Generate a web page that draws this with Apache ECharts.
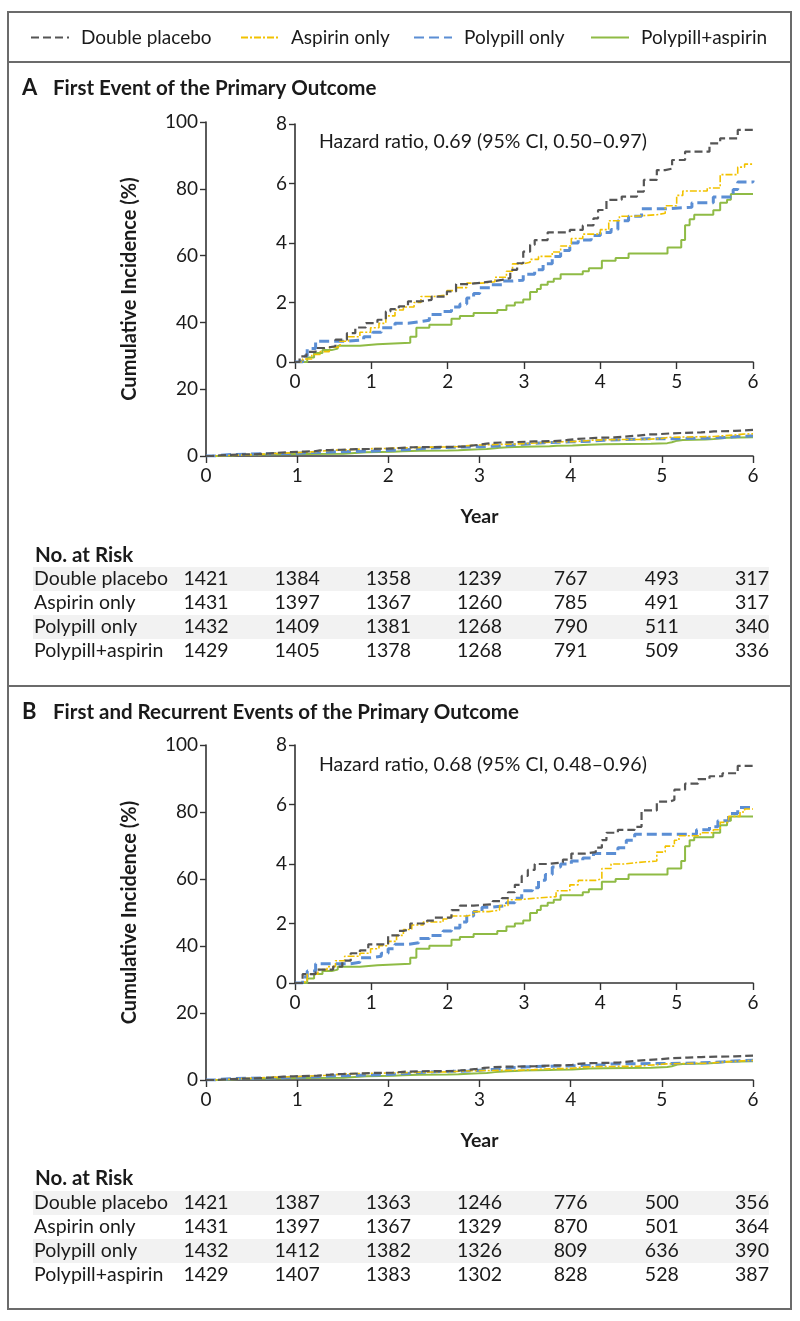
<!DOCTYPE html>
<html><head><meta charset="utf-8">
<script src="https://cdn.jsdelivr.net/npm/echarts@6/dist/echarts.min.js"></script>
<style>html,body{margin:0;padding:0;background:#fff}#c{width:800px;height:1321px}</style>
</head><body><div id="c"></div>
<script>
// ---------- DATA ----------
const groups = ['Double placebo', 'Aspirin only', 'Polypill only', 'Polypill+aspirin'];
const yearTicks = [0, 1, 2, 3, 4, 5, 6];
const panelATitle = 'First Event of the Primary Outcome';
const panelBTitle = 'First and Recurrent Events of the Primary Outcome';
const hazardA = 'Hazard ratio, 0.69 (95% CI, 0.50–0.97)';
const hazardB = 'Hazard ratio, 0.68 (95% CI, 0.48–0.96)';

// Panel A cumulative incidence (%) [year, value]
const placeboA = [[0,0],[0.06,0.19],[0.15,0.34],[0.27,0.47],[0.39,0.53],[0.53,0.75],[0.68,0.97],[0.79,1.16],[0.93,1.31],[1.08,1.42],[1.19,1.70],[1.25,1.78],[1.36,1.87],[1.48,2.04],[1.65,2.09],[1.79,2.2],[1.99,2.37],[2.11,2.62],[2.28,2.67],[2.45,2.71],[2.59,2.76],[2.71,2.82],[2.82,3.1],[2.91,3.32],[2.99,3.71],[3.08,3.94],[3.14,4.1],[3.31,4.36],[3.6,4.44],[3.77,4.59],[3.91,4.83],[3.97,5.11],[4.08,5.45],[4.28,5.56],[4.48,5.73],[4.57,6.12],[4.74,6.45],[4.85,6.5],[4.94,6.79],[5.11,7.07],[5.43,7.35],[5.57,7.52],[5.8,7.8],[6.0,7.8]];
const aspirinA = [[0,0],[0.1,0.1],[0.22,0.25],[0.33,0.35],[0.45,0.5],[0.59,0.7],[0.7,0.85],[0.85,1.0],[0.99,1.15],[1.1,1.3],[1.19,1.55],[1.31,1.75],[1.42,1.85],[1.56,2.0],[1.65,2.2],[1.82,2.25],[1.99,2.4],[2.11,2.5],[2.25,2.65],[2.45,2.7],[2.62,2.85],[2.77,3.05],[2.85,3.3],[2.99,3.35],[3.08,3.45],[3.19,3.55],[3.37,3.7],[3.48,3.9],[3.62,4.15],[3.77,4.3],[4.0,4.45],[4.11,4.75],[4.25,4.9],[4.45,4.95],[4.74,5.0],[4.85,5.25],[5.0,5.6],[5.08,5.75],[5.4,5.85],[5.57,6.3],[5.8,6.55],[5.89,6.65],[6.0,6.65]];
const polypillA = [[0,0],[0.1,0.2],[0.16,0.45],[0.27,0.7],[0.7,0.75],[0.9,0.85],[1.02,1.0],[1.13,1.15],[1.31,1.3],[1.48,1.35],[1.62,1.4],[1.76,1.6],[1.94,1.7],[2.05,1.85],[2.16,1.95],[2.25,2.15],[2.34,2.3],[2.42,2.5],[2.56,2.6],[2.71,2.72],[2.85,2.75],[2.99,2.95],[3.14,3.1],[3.25,3.3],[3.37,3.55],[3.48,3.75],[3.6,4.0],[3.71,4.1],[3.88,4.25],[4.0,4.35],[4.14,4.45],[4.23,4.75],[4.37,4.9],[4.54,5.15],[4.85,5.2],[5.2,5.35],[5.48,5.55],[5.74,5.8],[5.8,6.05],[6.0,6.1]];
const bothA = [[0,0],[0.1,0],[0.16,0.15],[0.25,0.3],[0.36,0.4],[0.48,0.45],[0.56,0.55],[0.85,0.6],[1.08,0.65],[1.51,0.85],[1.59,1.15],[1.76,1.25],[2.05,1.45],[2.16,1.55],[2.34,1.65],[2.65,1.75],[2.77,1.9],[2.88,2.0],[2.99,2.1],[3.08,2.35],[3.17,2.45],[3.22,2.6],[3.31,2.7],[3.39,2.8],[3.48,2.95],[3.77,3.05],[3.85,3.15],[4.02,3.4],[4.2,3.5],[4.37,3.65],[4.88,3.85],[5.06,4.1],[5.11,4.6],[5.17,4.8],[5.23,4.95],[5.48,5.1],[5.57,5.35],[5.66,5.45],[5.71,5.65],[6.0,5.65]];

// Panel B cumulative incidence (%) [year, value]
const placeboB = [[0,0],[0.1,0.3],[0.27,0.45],[0.5,0.55],[0.62,0.75],[0.73,1.0],[0.85,1.1],[0.96,1.3],[1.22,1.6],[1.36,1.75],[1.42,1.8],[1.51,2.0],[1.73,2.1],[1.82,2.2],[2.05,2.45],[2.16,2.6],[2.34,2.65],[2.59,2.75],[2.71,2.85],[2.79,3.05],[2.88,3.3],[2.97,3.6],[3.05,3.8],[3.14,4.0],[3.31,4.05],[3.51,4.15],[3.62,4.35],[3.8,4.4],[3.94,4.55],[4.02,4.8],[4.08,5.05],[4.23,5.15],[4.45,5.25],[4.54,5.8],[4.74,6.1],[4.91,6.15],[4.97,6.5],[5.11,6.7],[5.28,6.85],[5.43,6.95],[5.6,7.05],[5.8,7.3],[6.0,7.3]];
const aspirinB = [[0,0],[0.05,0.05],[0.16,0.3],[0.3,0.45],[0.42,0.55],[0.53,0.75],[0.65,0.9],[0.85,1.0],[0.99,1.15],[1.1,1.25],[1.22,1.4],[1.33,1.6],[1.42,1.8],[1.53,1.95],[1.68,2.05],[1.94,2.15],[2.02,2.25],[2.25,2.3],[2.34,2.4],[2.54,2.45],[2.68,2.6],[2.79,2.8],[2.94,2.85],[3.14,2.9],[3.42,3.1],[3.6,3.3],[3.71,3.45],[3.94,3.5],[4.02,3.85],[4.14,4.0],[4.31,4.05],[4.48,4.1],[4.74,4.4],[4.85,4.6],[4.97,4.8],[5.03,4.95],[5.31,5.05],[5.48,5.15],[5.57,5.4],[5.68,5.6],[5.83,5.75],[5.89,5.85],[6.0,5.85]];
const polypillB = [[0,0],[0.1,0.2],[0.16,0.4],[0.27,0.65],[0.73,0.7],[0.85,0.85],[0.99,0.9],[1.13,1.0],[1.22,1.15],[1.31,1.3],[1.48,1.35],[1.62,1.5],[1.76,1.6],[1.94,1.75],[2.05,1.85],[2.16,2.05],[2.25,2.25],[2.34,2.4],[2.45,2.55],[2.59,2.6],[2.77,2.7],[2.88,2.85],[2.97,3.1],[3.11,3.2],[3.19,3.45],[3.28,3.65],[3.37,3.9],[3.48,4.0],[3.62,4.1],[3.77,4.2],[3.91,4.35],[4.23,4.55],[4.34,4.8],[4.45,5.0],[5.26,5.15],[5.43,5.25],[5.54,5.45],[5.68,5.7],[5.8,5.9],[6.0,5.9]];
const bothB = [[0,0],[0.1,0],[0.16,0.15],[0.25,0.3],[0.36,0.4],[0.48,0.45],[0.56,0.55],[0.85,0.6],[1.08,0.65],[1.51,0.85],[1.59,1.15],[1.76,1.25],[2.05,1.45],[2.16,1.55],[2.34,1.65],[2.65,1.75],[2.77,1.9],[2.88,2.0],[2.99,2.1],[3.08,2.35],[3.17,2.45],[3.22,2.6],[3.31,2.7],[3.39,2.8],[3.48,2.95],[3.77,3.05],[3.85,3.15],[4.02,3.4],[4.2,3.5],[4.37,3.65],[4.88,3.85],[5.06,4.1],[5.11,4.6],[5.17,4.8],[5.23,4.9],[5.48,5.05],[5.57,5.3],[5.66,5.45],[5.71,5.6],[6.0,5.6]];

// Numbers at risk
const riskAPlacebo  = [1421, 1384, 1358, 1239, 767, 493, 317];
const riskAAspirin  = [1431, 1397, 1367, 1260, 785, 491, 317];
const riskAPolypill = [1432, 1409, 1381, 1268, 790, 511, 340];
const riskABoth     = [1429, 1405, 1378, 1268, 791, 509, 336];
const riskBPlacebo  = [1421, 1387, 1363, 1246, 776, 500, 356];
const riskBAspirin  = [1431, 1397, 1367, 1329, 870, 501, 364];
const riskBPolypill = [1432, 1412, 1382, 1326, 809, 636, 390];
const riskBBoth     = [1429, 1407, 1383, 1302, 828, 528, 387];

// ---------- STYLE ----------
const FONT = 'Lato, "Liberation Sans", sans-serif';
const TXT = '#1a1a1a';
const AX = '#333333';
const styles = [
  { color: '#555555', width: 2.2, type: [8, 4] },
  { color: '#f2c200', width: 1.6, type: [7, 2, 2, 2] },
  { color: '#5b8ed4', width: 3, type: [10, 5] },
  { color: '#8fbb45', width: 2, type: 'solid' }
];
const dataA = [placeboA, aspirinA, polypillA, bothA];
const dataB = [placeboB, aspirinB, polypillB, bothB];

const grids = [
  { left: 206, top: 122, width: 547, height: 334 },
  { left: 295, top: 124, width: 458, height: 238 },
  { left: 206, top: 745, width: 547, height: 335 },
  { left: 295, top: 745, width: 458, height: 238 }
];

function xAx(i, main) {
  return {
    type: 'value', gridIndex: i, min: 0, max: 6, interval: 1,
    axisLine: { show: true, lineStyle: { color: AX, width: 1.6 } },
    axisTick: { show: true, length: 7, lineStyle: { color: AX, width: 1.4 } },
    axisLabel: { fontFamily: FONT, fontSize: 19, color: TXT, margin: 10 },
    splitLine: { show: false },
    name: main ? 'Year' : '', nameLocation: 'middle', nameGap: 51,
    nameTextStyle: { fontFamily: FONT, fontSize: 19.5, fontWeight: 'bold', color: TXT }
  };
}
function yAx(i, main) {
  return {
    type: 'value', gridIndex: i, min: 0, max: main ? 100 : 8, interval: main ? 20 : 2,
    axisLine: { show: true, lineStyle: { color: AX, width: 1.6 } },
    axisTick: { show: true, length: 6, lineStyle: { color: AX, width: 1.4 } },
    axisLabel: { fontFamily: FONT, fontSize: 19, color: TXT, margin: 8 },
    splitLine: { show: false },
    name: main ? 'Cumulative Incidence (%)' : '', nameLocation: 'middle', nameGap: 66,
    nameTextStyle: { fontFamily: FONT, fontSize: 20, fontWeight: 'bold', color: TXT }
  };
}

const series = [];
[[0, dataA], [1, dataA], [2, dataB], [3, dataB]].forEach(([gi, ds]) => {
  ds.forEach((d, k) => {
    series.push({
      type: 'line', name: groups[k], step: 'end', symbol: 'none', showSymbol: false,
      xAxisIndex: gi, yAxisIndex: gi, data: d, z: 10 - k,
      lineStyle: { color: styles[k].color, width: styles[k].width, type: styles[k].type, cap: 'butt' },
      itemStyle: { color: styles[k].color },
      animation: false, silent: true
    });
  });
});

const legendLefts = [30, 240, 413, 590];
const legends = groups.map((g, k) => ({
  data: [{ name: g, itemStyle: { opacity: 0 } }], left: legendLefts[k], top: 28, padding: 0,
  itemWidth: 38, itemHeight: 20, itemGap: 0,
  selectedMode: false,
  textStyle: { fontFamily: FONT, fontSize: 19, color: TXT, padding: [0, 0, 0, 7] }
}));

const chart = echarts.init(document.getElementById('c'), null, { renderer: 'canvas' });
chart.setOption({
  animation: false,
  backgroundColor: '#ffffff',
  grid: grids,
  xAxis: [xAx(0, true), xAx(1, false), xAx(2, true), xAx(3, false)],
  yAxis: [yAx(0, true), yAx(1, false), yAx(2, true), yAx(3, false)],
  legend: legends,
  series: series
});

// ---------- Frame, titles and risk tables ----------
const g = [];
const BORDER = '#6b6b6b';
g.push({ type: 'rect', shape: { x: 8, y: 12, width: 783, height: 1297 }, style: { fill: 'none', stroke: BORDER, lineWidth: 2 }, z: 1 });
g.push({ type: 'line', shape: { x1: 8, y1: 62, x2: 791, y2: 62 }, style: { stroke: BORDER, lineWidth: 2 }, z: 1 });
g.push({ type: 'line', shape: { x1: 8, y1: 686, x2: 791, y2: 686 }, style: { stroke: BORDER, lineWidth: 2 }, z: 1 });

function label(text, x, y, opts) {
  return Object.assign({ type: 'text', x: x, y: y, z: 20,
    style: Object.assign({ text: text, fontFamily: FONT, fontSize: 19.5, fill: TXT, textVerticalAlign: 'middle', verticalAlign: 'middle' }, opts || {}) });
}
g.push(label('A', 22, 88, { fontSize: 22, fontWeight: 'bold' }));
g.push(label(panelATitle, 53, 88, { fontSize: 20.5, fontWeight: 'bold' }));
g.push(label('B', 22, 712, { fontSize: 22, fontWeight: 'bold' }));
g.push(label(panelBTitle, 53, 712, { fontSize: 20.5, fontWeight: 'bold' }));
g.push(label(hazardA, 319, 142, { fontSize: 19.5 }));
g.push(label(hazardB, 319, 765, { fontSize: 19.5 }));

function table(rows, titleY, rowYs, gridIdx) {
  g.push(label('No. at Risk', 35, titleY, { fontSize: 20.5, fontWeight: 'bold' }));
  rows.forEach((vals, r) => {
    const y = rowYs[r];
    if (r % 2 === 0) {
      g.push({ type: 'rect', shape: { x: 33, y: y - 12, width: 736, height: 24 }, style: { fill: '#f2f2f2' }, z: 2 });
    }
    g.push(label(groups[r], 34, y));
    vals.forEach((v, c) => {
      const px = chart.convertToPixel({ gridIndex: gridIdx }, [yearTicks[c], 0])[0];
      g.push(label(String(v), c === 6 ? px - 1 : px, y, { align: 'center', textAlign: 'center' }));
    });
  });
}
table([riskAPlacebo, riskAAspirin, riskAPolypill, riskABoth], 555, [579, 603, 627, 651], 0);
table([riskBPlacebo, riskBAspirin, riskBPolypill, riskBBoth], 1178, [1203, 1227, 1251, 1275], 2);

chart.setOption({ graphic: g });
</script>
</body></html>
